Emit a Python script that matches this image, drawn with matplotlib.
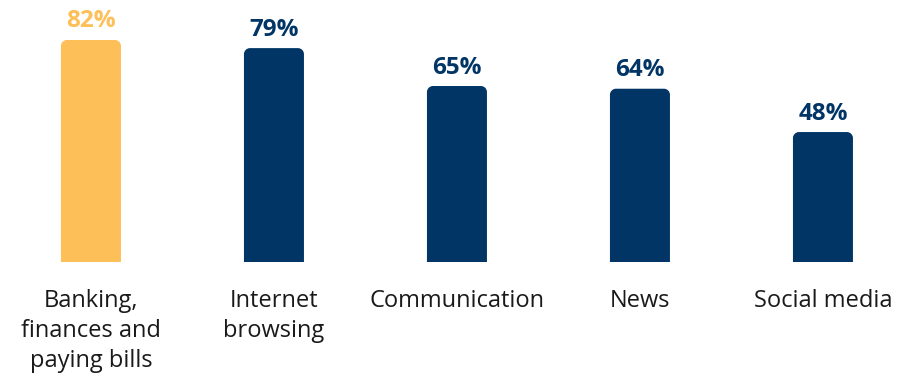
import matplotlib
matplotlib.use("Agg")
import matplotlib.pyplot as plt
from matplotlib.path import Path
from matplotlib.patches import PathPatch

categories = ["Banking,\nfinances and\npaying bills", "Internet\nbrowsing",
              "Communication", "News", "Social media"]
values = [82, 79, 65, 64, 48]
highlight = [True, False, False, False, False]

ORANGE = "#FDBF57"
NAVY = "#003566"

plt.rcParams["font.family"] = ["Open Sans", "DejaVu Sans"]

fig = plt.figure(figsize=(9.15, 3.77), dpi=100)
ax = fig.add_axes([0, 115 / 377, 1, 257.2 / 377])
ax.set_xlim(-0.497, 4.503)
ax.set_ylim(0, 95)
ax.axis("off")

bar_w = 60 / 183
# corner radius of ~6 px expressed in data units on each axis
rx = 6 / 183
ry = 6 / (257.2 / 95)
k = 0.5523


def rounded_top_bar(x0, w, h):
    x1 = x0 + w
    verts = [
        (x0, 0), (x0, h - ry),
        (x0, h - ry + k * ry), (x0 + rx - k * rx, h), (x0 + rx, h),
        (x1 - rx, h),
        (x1 - rx + k * rx, h), (x1, h - ry + k * ry), (x1, h - ry),
        (x1, 0), (x0, 0),
    ]
    codes = [Path.MOVETO, Path.LINETO,
             Path.CURVE4, Path.CURVE4, Path.CURVE4,
             Path.LINETO,
             Path.CURVE4, Path.CURVE4, Path.CURVE4,
             Path.LINETO, Path.CLOSEPOLY]
    return Path(verts, codes)


bars = ax.bar(range(len(values)), values, width=bar_w, color="none")
for bar, val, hi in zip(bars, values, highlight):
    color = ORANGE if hi else NAVY
    ax.add_patch(PathPatch(rounded_top_bar(bar.get_x(), bar.get_width(), val),
                           facecolor=color, edgecolor="none"))
    ax.annotate(f"{val}%", (bar.get_x() + bar.get_width() / 2, val),
                xytext=(0, 9), textcoords="offset points",
                ha="center", va="baseline", fontsize=17.5,
                fontweight="bold", color=color)

for i, cat in enumerate(categories):
    ax.annotate(cat, (i, 0), xytext=(0, -19.5), textcoords="offset points",
                ha="center", va="top", fontsize=17, color="#1a1a1a",
                linespacing=1.32)

fig.savefig("out.png", dpi=100)
